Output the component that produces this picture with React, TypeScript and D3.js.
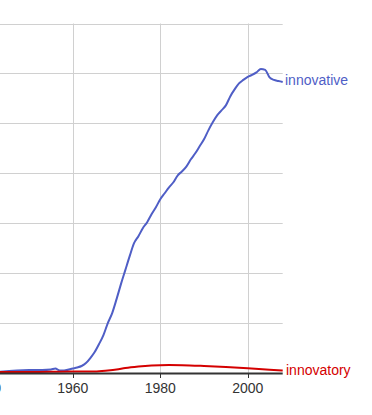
import React from "react";
import * as d3 from "d3";

const years = [1943, 1950, 1953, 1955, 1956, 1957, 1958, 1960, 1961, 1962, 1963, 1964, 1965, 1966, 1967, 1968, 1969, 1970, 1971, 1972, 1973, 1974, 1975, 1976, 1977, 1978, 1979, 1980, 1981, 1982, 1983, 1984, 1985, 1986, 1987, 1988, 1989, 1990, 1991, 1992, 1993, 1994, 1995, 1996, 1997, 1998, 1999, 2000, 2001, 2002, 2003, 2004, 2005, 2006, 2007, 2008];
const innovative = [0.02, 0.06, 0.06, 0.07, 0.09, 0.05, 0.05, 0.09, 0.11, 0.14, 0.2, 0.3, 0.42, 0.58, 0.76, 1.0, 1.2, 1.48, 1.78, 2.06, 2.34, 2.6, 2.74, 2.9, 3.02, 3.18, 3.32, 3.48, 3.6, 3.72, 3.82, 3.96, 4.04, 4.14, 4.28, 4.4, 4.54, 4.68, 4.86, 5.02, 5.16, 5.26, 5.36, 5.54, 5.68, 5.8, 5.87, 5.93, 5.97, 6.02, 6.09, 6.07, 5.92, 5.87, 5.85, 5.83];

const redYears = [1943, 1950, 1960, 1965, 1968, 1970, 1972, 1975, 1978, 1982, 1985, 1990, 1995, 2000, 2005, 2008];
const innovatory = [0.02, 0.02, 0.03, 0.03, 0.05, 0.07, 0.1, 0.13, 0.15, 0.16, 0.156, 0.14, 0.12, 0.095, 0.065, 0.05];

const xTicks = [1940, 1960, 1980, 2000];
const yGrid = [1, 2, 3, 4, 5, 6, 7];

const BLUE = "#4f5ec6";
const RED = "#d40000";

export default function App() {
  const W = 372, H = 415;
  const x = d3.scaleLinear().domain([1940, 2008]).range([-14.6, 282.7]);
  const y = d3.scaleLinear().domain([0, 7]).range([373, 23.5]);
  const line = d3.line<[number, number]>().x(d => x(d[0])).y(d => y(d[1])).curve(d3.curveMonotoneX);
  const blue = years.map((yr, i) => [yr, innovative[i]] as [number, number]);
  const red = redYears.map((yr, i) => [yr, innovatory[i]] as [number, number]);
  const font = "Liberation Sans, Arial, sans-serif";
  return (
    <svg width={W} height={H} style={{ position: "absolute", left: 0, top: 0, background: "#fff" }}>
      {yGrid.map(v => (
        <line key={"h" + v} x1={0} x2={x(2008)} y1={Math.round(y(v)) + 0.5} y2={Math.round(y(v)) + 0.5} stroke="#d0d0d0" strokeWidth={1} />
      ))}
      {xTicks.map(t => (
        <line key={"v" + t} x1={Math.round(x(t)) + 0.5} x2={Math.round(x(t)) + 0.5} y1={y(7)} y2={y(0)} stroke="#d0d0d0" strokeWidth={1} />
      ))}
      <path d={line(blue) || ""} fill="none" stroke={BLUE} strokeWidth={2} />
      <path d={line(red) || ""} fill="none" stroke={RED} strokeWidth={2} />
      <line x1={0} x2={x(2008)} y1={y(0) + 0.5} y2={y(0) + 0.5} stroke="#333" strokeWidth={2} />
      {xTicks.map(t => (
        <g key={"t" + t}>
          <line x1={Math.round(x(t)) + 0.5} x2={Math.round(x(t)) + 0.5} y1={y(0)} y2={y(0) + 5} stroke="#333" strokeWidth={1} />
          <text x={x(t)} y={393} textAnchor="middle" fontFamily={font} fontSize={14} fill="#333">{t}</text>
        </g>
      ))}
      <text x={285} y={85} fontFamily={font} fontSize={14} fill={BLUE}>innovative</text>
      <text x={286} y={375} fontFamily={font} fontSize={14} fill={RED}>innovatory</text>
    </svg>
  );
}
